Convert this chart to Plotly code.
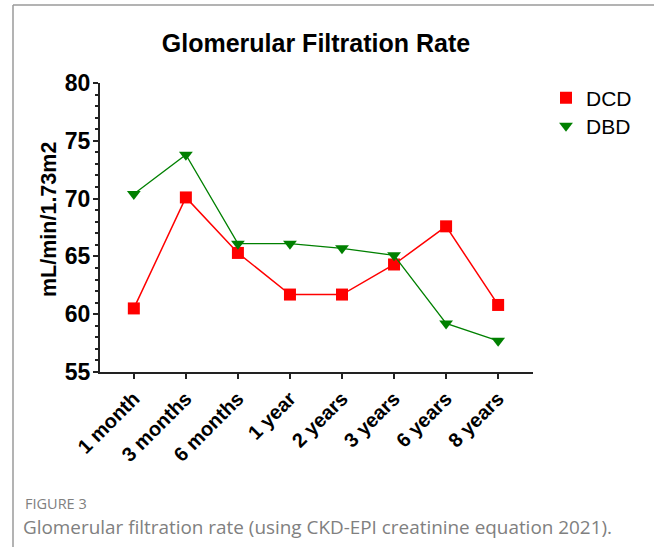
import plotly.graph_objects as go

categories = ["1 month", "3 months", "6 months", "1 year", "2 years", "3 years", "6 years", "8 years"]
dcd = [60.5, 70.1, 65.3, 61.7, 61.7, 64.3, 67.6, 60.8]
dbd = [70.4, 73.8, 66.1, 66.1, 65.7, 65.1, 59.2, 57.7]
y_ticks = [55, 60, 65, 70, 75, 80]

W, H = 654, 547
L, R, T, B = 100, 121, 83, 175
pw, ph = W - L - R, H - T - B

def px(x):
    return (x - L) / pw

def py(y):
    return (H - B - y) / ph

xs = list(range(len(categories)))
fig = go.Figure()
fig.add_trace(go.Scatter(
    x=xs, y=dcd, name="DCD", mode="lines+markers", showlegend=False,
    line=dict(color="#ff0000", width=1.5),
    marker=dict(symbol="square", size=12, color="#ff0000"),
))
fig.add_trace(go.Scatter(
    x=xs, y=dbd, name="DBD", mode="lines+markers", showlegend=False,
    line=dict(color="#008000", width=1.3),
    marker=dict(symbol="triangle-down", size=12, color="#008000"),
))
# legend entries (markers only, as in the reference)
fig.add_trace(go.Scatter(x=[None], y=[None], name="DCD", mode="markers", legend="legend",
                         marker=dict(symbol="square", size=12, color="#ff0000")))
fig.add_trace(go.Scatter(x=[None], y=[None], name="DBD", mode="markers", legend="legend2",
                         marker=dict(symbol="triangle-down", size=12, color="#008000")))

leg_common = dict(xanchor="left", yanchor="middle", font=dict(size=21, color="black"),
                  itemwidth=30, bgcolor="rgba(0,0,0,0)")
fig.update_layout(
    width=W, height=H,
    margin=dict(l=L, r=R, t=T, b=B),
    paper_bgcolor="white", plot_bgcolor="white",
    font=dict(family="Liberation Sans, Arial, sans-serif", color="black"),
    title=dict(text="<b>Glomerular Filtration Rate</b>", x=px(316), xref="paper",
               xanchor="center", y=1 - 43 / H, yref="container", yanchor="middle",
               font=dict(size=25, color="black")),
    legend=dict(x=px(546), y=py(98), **leg_common),
    legend2=dict(x=px(546), y=py(126), **leg_common),
    showlegend=True,
)

fig.update_xaxes(
    range=[-0.65, 7.67], tickmode="array", tickvals=xs,
    ticktext=categories, tickangle=-45,
    tickfont=dict(size=20, family="Liberation Sans, Arial, sans-serif", weight="bold"),
    showline=True, linecolor="#222", linewidth=2, ticks="outside", ticklen=5,
    tickwidth=2, tickcolor="#222", showgrid=False, zeroline=False,
)
fig.update_yaxes(
    range=[55, 80], tickmode="array", tickvals=y_ticks,
    tickfont=dict(size=23, family="Liberation Sans, Arial, sans-serif", weight="bold"),
    ticklabelstandoff=-2,
    showline=True, linecolor="#222", linewidth=2, ticks="outside", ticklen=5,
    tickwidth=2, tickcolor="#222", showgrid=False, zeroline=False,
    minor=dict(dtick=1, ticks="outside", ticklen=3, tickwidth=1.5, tickcolor="#222"),
)

# y-axis title
fig.add_annotation(text="<b>mL/min/1.73m2</b>", xref="paper", yref="paper",
                   x=px(49), y=py(220), textangle=-90, showarrow=False,
                   xanchor="center", yanchor="middle",
                   font=dict(size=21.5, color="black"))

# frame lines
fig.add_shape(type="line", xref="paper", yref="paper", x0=px(13), x1=px(13),
              y0=py(5), y1=py(547), line=dict(color="#9a9a9a", width=1.5))
fig.add_shape(type="line", xref="paper", yref="paper", x0=px(13), x1=px(654),
              y0=py(5), y1=py(5), line=dict(color="#9a9a9a", width=1.5))

fig.add_annotation(text="FIGURE 3", xref="paper", yref="paper", x=px(23), y=py(504),
                   xanchor="left", yanchor="middle", showarrow=False,
                   font=dict(family="Open Sans, sans-serif", size=14.5, color="#808080"))
fig.add_annotation(text="Glomerular filtration rate (using CKD-EPI creatinine equation 2021).",
                   xref="paper", yref="paper", x=px(21), y=py(527),
                   xanchor="left", yanchor="middle", showarrow=False,
                   font=dict(family="Open Sans, sans-serif", size=18.9, color="#808080"))

fig.write_html("out.html", config={"displayModeBar": False},
               post_script="document.body.style.margin='0';")
